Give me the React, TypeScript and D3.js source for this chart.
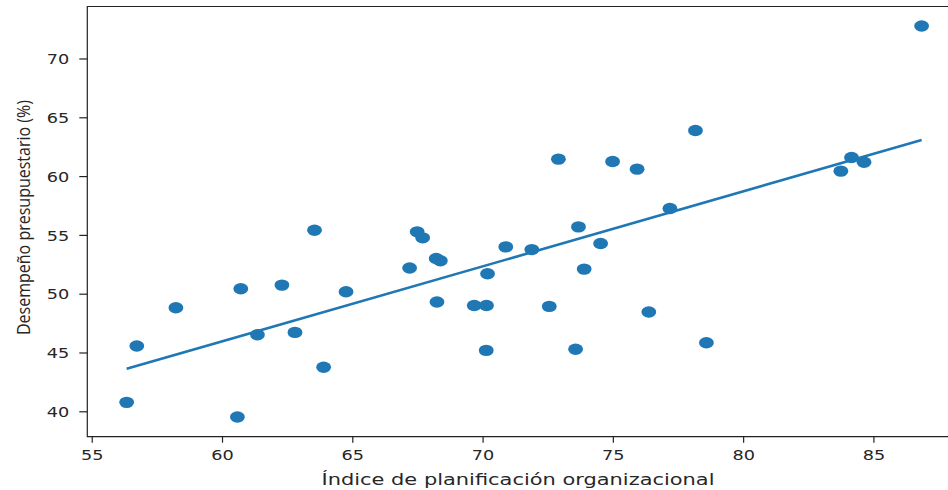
import { useEffect, useRef } from 'react';
import * as d3 from 'd3';

// indice de planificacion organizacional (x) vs desempeno presupuestario (y)
const planIndex = [
  56.34, 56.73, 58.23, 60.72, 62.3, 61.36, 62.8, 60.59, 63.9, 63.55,
  64.76, 67.2, 67.49, 67.7, 68.22, 68.38, 68.25, 69.68, 70.15, 70.19,
  70.14, 70.89, 71.89, 72.56, 72.91, 73.68, 73.9, 73.57, 74.53, 74.99,
  75.93, 76.38, 77.19, 78.17, 78.59, 83.75, 84.16, 84.64, 86.85,
];
const budgetPerf = [
  40.76, 45.55, 48.8, 50.42, 50.73, 46.51, 46.71, 39.52, 43.74, 55.4,
  50.16, 52.18, 55.26, 54.75, 53.0, 52.8, 49.29, 49.0, 49.0, 51.69,
  45.18, 53.98, 53.75, 48.92, 61.44, 55.68, 52.09, 45.27, 54.27, 61.24,
  60.59, 48.44, 57.25, 63.88, 45.83, 60.42, 61.58, 61.18, 72.76,
];
const xTicks = [55, 60, 65, 70, 75, 80, 85];
const yTicks = [40, 45, 50, 55, 60, 65, 70];
const xLabel = 'Índice de planificación organizacional';
const yLabel = 'Desempeño presupuestario (%)';

const WIDTH = 948;
const HEIGHT = 490;
const left = 87.3;
const right = 962;
const top = 6.5;
const bottom = 436.7;
const blue = '#1f77b4';
const stretch = 1.22; // the picture is wider than tall, text looks stretched

const App = () => {
  const svgRef = useRef<SVGSVGElement>(null);

  useEffect(() => {
    const svg = d3.select(svgRef.current);
    svg.selectAll('*').remove();

    const x = d3.scaleLinear().domain([54.83, 88.4]).range([left, right]);
    const y = d3.scaleLinear().domain([37.84, 74.42]).range([bottom, top]);

    const data = planIndex.map((v, i) => ({ x: v, y: budgetPerf[i] }));

    // least squares fit
    const mx = d3.mean(planIndex) as number;
    const my = d3.mean(budgetPerf) as number;
    const sxy = d3.sum(data, (d) => (d.x - mx) * (d.y - my));
    const sxx = d3.sum(data, (d) => (d.x - mx) ** 2);
    const slope = sxy / sxx;
    const icpt = my - slope * mx;
    const [x0, x1] = d3.extent(planIndex) as [number, number];
    const fit = [x0, x1].map((v) => ({ x: v, y: icpt + slope * v }));

    // points
    svg
      .append('g')
      .selectAll('ellipse')
      .data(data)
      .enter()
      .append('ellipse')
      .attr('cx', (d) => x(d.x))
      .attr('cy', (d) => y(d.y))
      .attr('rx', 7.4)
      .attr('ry', 5.7)
      .attr('fill', blue);

    const line = d3
      .line<{ x: number; y: number }>()
      .x((d) => x(d.x))
      .y((d) => y(d.y));

    svg
      .append('path')
      .attr('d', line(fit))
      .attr('fill', 'none')
      .attr('stroke', blue)
      .attr('stroke-width', 2.6);

    // frame (right side falls outside the picture)
    svg
      .append('path')
      .attr('d', `M${right},${top}H${left}V${bottom}H${right}`)
      .attr('fill', 'none')
      .attr('stroke', '#222')
      .attr('stroke-width', 1.2);

    const xAxis = svg
      .append('g')
      .attr('transform', `translate(0,${bottom})`)
      .call(d3.axisBottom(x).tickValues(xTicks).tickSize(6).tickFormat(d3.format('d')));
    xAxis.select('.domain').remove();
    xAxis
      .selectAll('text')
      .attr('y', 23.2)
      .attr('dy', null)
      .attr('transform', `scale(${stretch},1)`);

    const yAxis = svg
      .append('g')
      .attr('transform', `translate(${left},0)`)
      .call(d3.axisLeft(y).tickValues(yTicks).tickSize(8).tickFormat(d3.format('d')));
    yAxis.select('.domain').remove();
    yAxis
      .selectAll('text')
      .attr('x', -18 / stretch)
      .attr('dy', '0.36em')
      .attr('transform', `scale(${stretch},1)`);

    svg
      .selectAll('.tick line')
      .attr('stroke', '#222')
      .attr('stroke-width', 1.2);
    svg
      .selectAll('.tick text')
      .attr('fill', '#262626')
      .attr('font-family', 'DejaVu Sans')
      .attr('font-size', 14.5);

    svg
      .append('text')
      .attr('x', 518)
      .attr('y', 485)
      .attr('text-anchor', 'middle')
      .attr('font-family', 'DejaVu Sans')
      .attr('font-size', 16.5)
      .attr('fill', '#262626')
      .attr('textLength', 393)
      .attr('lengthAdjust', 'spacingAndGlyphs')
      .text(xLabel);

    svg
      .append('text')
      .attr('transform', 'translate(30,217.5) rotate(-90)')
      .attr('text-anchor', 'middle')
      .attr('font-family', 'Open Sans')
      .attr('font-size', 18)
      .attr('fill', '#262626')
      .attr('textLength', 235)
      .attr('lengthAdjust', 'spacingAndGlyphs')
      .text(yLabel);
  }, []);

  return (
    <svg
      ref={svgRef}
      width={WIDTH}
      height={HEIGHT}
      style={{ position: 'absolute', left: 0, top: 0, background: '#fff' }}
    />
  );
};

export default App;
